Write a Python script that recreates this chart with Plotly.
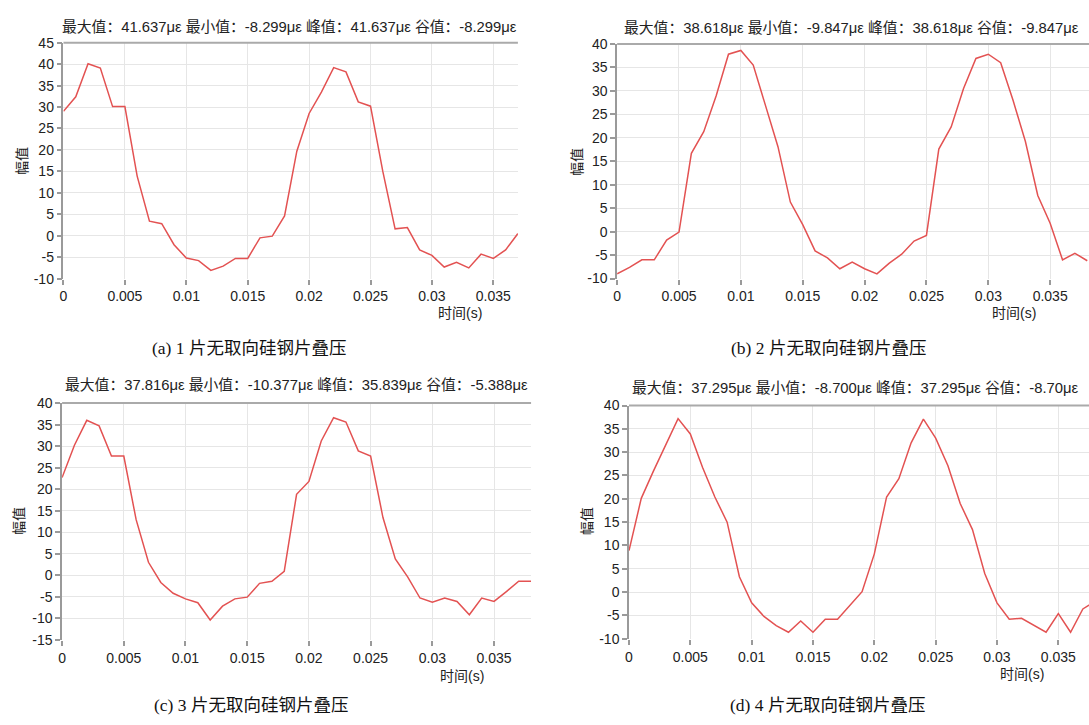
import plotly.graph_objects as go

# ---------------- data ----------------
time_a = [i / 1000 for i in range(0, 38)]
strain_a = [29.0, 32.4, 40.1, 39.1, 30.1, 30.1, 13.9, 3.4, 2.8, -2.1,
            -5.2, -5.8, -8.1, -7.1, -5.3, -5.3, -0.5, -0.1, 4.6, 19.7,
            28.5, 33.5, 39.2, 38.2, 31.2, 30.2, 15.0, 1.6, 1.9, -3.3,
            -4.6, -7.3, -6.2, -7.5, -4.3, -5.3, -3.3, 0.5]

time_b = [i / 1000 for i in range(0, 39)]
strain_b = [-9.0, -7.6, -6.0, -6.0, -1.8, -0.1, 16.7, 21.3, 28.9, 37.8,
            38.6, 35.5, 26.8, 18.1, 6.3, 1.5, -4.1, -5.6, -7.9, -6.5,
            -7.9, -9.0, -6.7, -4.8, -2.0, -0.8, 17.6, 22.3, 30.5, 36.9,
            37.8, 36.0, 28.0, 19.2, 7.7, 1.8, -6.0, -4.6, -6.2]

time_c = [i / 1000 for i in range(0, 39)]
strain_c = [22.7, 30.2, 36.0, 34.7, 27.7, 27.7, 12.9, 3.0, -1.7, -4.2,
            -5.5, -6.4, -10.4, -7.2, -5.5, -5.1, -1.9, -1.4, 0.9, 18.8,
            21.8, 31.2, 36.6, 35.6, 28.9, 27.7, 13.4, 3.8, -0.4, -5.3,
            -6.3, -5.3, -6.1, -9.2, -5.3, -6.1, -3.8, -1.4, -1.4]

time_d = [i / 1000 for i in range(0, 39)]
strain_d = [8.9, 20.1, 26.0, 31.5, 37.2, 33.9, 26.7, 20.4, 15.0, 3.3,
            -2.3, -5.2, -7.2, -8.6, -6.2, -8.6, -5.8, -5.8, -2.8, 0.1,
            8.2, 20.4, 24.3, 32.0, 37.1, 33.0, 27.1, 19.0, 13.4, 4.0,
            -2.3, -5.8, -5.6, -7.1, -8.6, -4.6, -8.6, -3.6, -2.0]

titles = [
    "最大值：41.637με 最小值：-8.299με 峰值：41.637με 谷值：-8.299με",
    "最大值：38.618με 最小值：-9.847με 峰值：38.618με 谷值：-9.847με",
    "最大值：37.816με 最小值：-10.377με 峰值：35.839με 谷值：-5.388με",
    "最大值：37.295με 最小值：-8.700με 峰值：37.295με 谷值：-8.70με",
]
captions = ["(a) 1 片无取向硅钢片叠压", "(b) 2 片无取向硅钢片叠压",
            "(c) 3 片无取向硅钢片叠压", "(d) 4 片无取向硅钢片叠压"]
y_label = "幅值"
x_label = "时间(s)"

yticks_a = [45, 40, 35, 30, 25, 20, 15, 10, 5, 0, -5, -10]
yticks_b = [40, 35, 30, 25, 20, 15, 10, 5, 0, -5, -10]
yticks_c = [40, 35, 30, 25, 20, 15, 10, 5, 0, -5, -10, -15]
yticks_d = [40, 35, 30, 25, 20, 15, 10, 5, 0, -5, -10]
xticks = [0, 0.005, 0.01, 0.015, 0.02, 0.025, 0.03, 0.035]
xticktext = ["0", "0.005", "0.01", "0.015", "0.02", "0.025", "0.03", "0.035"]

# ---------------- layout helpers ----------------
W, H = 1089, 725
FONT = "Liberation Sans, Arial, Noto Sans CJK SC, sans-serif"
SERIF = "Liberation Serif, Times New Roman, Noto Sans CJK SC, serif"
LINE = "#e35252"


def px_x(v):
    return v / W


def px_y(v):
    return 1 - v / H


panels = [
    dict(x=time_a, y=strain_a, yt=yticks_a, l=59.7, r=515.8, t=35.5, b=276.7,
         xr=[0, 0.037], yr=[-10, 45], title=(287, 19.5), ylab=(17.5, 156),
         xlab=(458, 312), cap=(246, 348)),
    dict(x=time_b, y=strain_b, yt=yticks_b, l=615.4, r=1089, t=36.7, b=276.7,
         xr=[0, 0.03814], yr=[-10, 40], title=(851, 20), ylab=(574.5, 157),
         xlab=(1014, 311.5), cap=(828, 348)),
    dict(x=time_c, y=strain_c, yt=yticks_c, l=58.3, r=529, t=404, b=646,
         xr=[0, 0.038], yr=[-15, 40], title=(294, 386), ylab=(15.6, 525),
         xlab=(460, 683), cap=(248, 713)),
    dict(x=time_d, y=strain_d, yt=yticks_d, l=627.3, r=1089, t=406.5, b=645,
         xr=[0, 0.0375], yr=[-10, 40], title=(855, 389), ylab=(586, 525),
         xlab=(1022, 681), cap=(827, 713)),
]

fig = go.Figure()
annotations = []
shapes = []
layout_axes = {}

for i, p in enumerate(panels):
    n = "" if i == 0 else str(i + 1)
    fig.add_trace(go.Scatter(x=p["x"], y=p["y"], mode="lines",
                             line=dict(color=LINE, width=1.5),
                             xaxis="x" + n, yaxis="y" + n, showlegend=False,
                             hoverinfo="skip"))
    layout_axes["xaxis" + n] = dict(
        domain=[px_x(p["l"]), px_x(p["r"])], range=p["xr"], anchor="y" + n,
        tickvals=xticks, ticktext=xticktext, showgrid=True, gridcolor="#e6e6e6",
        gridwidth=1, zeroline=False, showline=False, ticks="outside",
        ticklen=5, tickwidth=1.5, tickcolor="#9a9a9a",
        tickfont=dict(family=FONT, size=14, color="#222"), fixedrange=True)
    layout_axes["yaxis" + n] = dict(
        domain=[px_y(p["b"]), px_y(p["t"])], range=p["yr"], anchor="x" + n,
        tickvals=p["yt"], ticktext=[str(v) for v in p["yt"]], showgrid=True,
        gridcolor="#e6e6e6", gridwidth=1, zeroline=False, showline=True,
        linecolor="#9a9a9a", linewidth=1.5, ticks="outside", ticklen=5,
        tickwidth=1.5, tickcolor="#9a9a9a",
        tickfont=dict(family=FONT, size=14, color="#222"), fixedrange=True)
    shapes.append(dict(type="line", xref="x" + n + " domain",
                       yref="y" + n + " domain", x0=0, x1=1, y0=1, y1=1,
                       line=dict(color="#aaaaaa", width=2)))
    annotations.append(dict(text=titles[i], x=px_x(p["title"][0]),
                            y=px_y(p["title"][1]), xref="paper", yref="paper",
                            xanchor="center", yanchor="middle", showarrow=False,
                            font=dict(family=FONT, size=14.8, color="#222")))
    annotations.append(dict(text=y_label, x=px_x(p["ylab"][0]),
                            y=px_y(p["ylab"][1]), xref="paper", yref="paper",
                            xanchor="center", yanchor="middle", showarrow=False,
                            textangle=-90,
                            font=dict(family=FONT, size=14, color="#222")))
    annotations.append(dict(text=x_label, x=px_x(p["xlab"][0]),
                            y=px_y(p["xlab"][1]), xref="paper", yref="paper",
                            xanchor="center", yanchor="middle", showarrow=False,
                            font=dict(family=FONT, size=14, color="#222")))
    annotations.append(dict(text=captions[i], x=px_x(p["cap"][0]),
                            y=px_y(p["cap"][1]), xref="paper", yref="paper",
                            xanchor="center", yanchor="middle", showarrow=False,
                            font=dict(family=SERIF, size=17.5, color="#111")))

fig.update_layout(
    width=W, height=H, margin=dict(l=0, r=0, t=0, b=0),
    paper_bgcolor="white", plot_bgcolor="white",
    annotations=annotations, shapes=shapes, **layout_axes)

fig.write_html("out.html", config={"displayModeBar": False})
